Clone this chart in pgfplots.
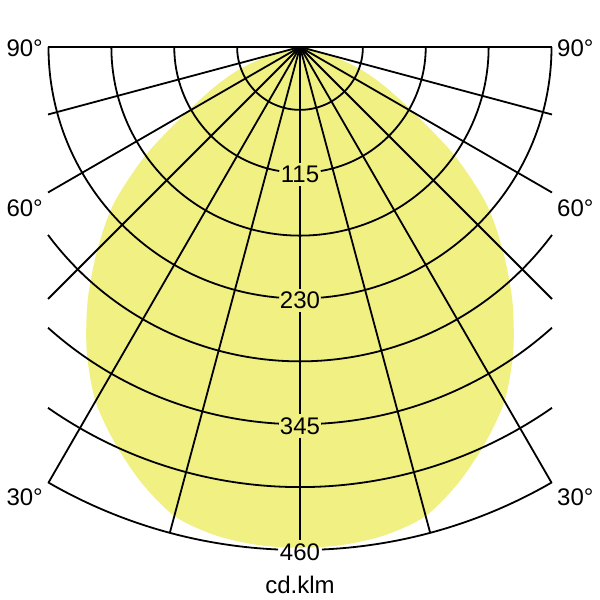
\documentclass[border=0pt]{standalone}
\usepackage{fontspec}
\setmainfont{Liberation Sans}
\usepackage{pgfplots}
\pgfplotsset{compat=1.18}
\usepackage{pgfplotstable}
\definecolor{lum}{RGB}{241,240,131}
% luminous intensity (cd/klm) vs angle from nadir (deg)
\pgfplotstableread{
a I
-90 0
-85 3
-80 10
-75 28
-70 58
-65 86
-60 120
-55 172
-50 222
-45 262
-40 302
-35 340
-30 374
-25 400
-20 424
-15 444
-10 453
-5 457
0 458
5 457
10 453
15 444
20 424
25 400
30 374
35 340
40 302
45 262
50 222
55 172
60 120
65 86
70 58
75 28
80 10
85 3
90 0
}\ldc
\begin{document}
\begin{tikzpicture}
\begin{axis}[width=600pt,height=600pt,scale only axis,
  xmin=0,xmax=600,ymin=-600,ymax=0,hide axis,clip=false]
\path (axis cs:0,0) rectangle (axis cs:600,-600);
\addplot[fill=lum,draw=none,smooth] table[
  x expr={300+1.09348*\thisrow{I}*sin(\thisrow{a})},
  y expr={-47-1.09348*\thisrow{I}*cos(\thisrow{a})}] {\ldc};
\begin{scope}[line width=1.8pt,line cap=butt]
% radial lines
\draw (axis cs:300,-47) -- ++(-75:503pt);
\draw (axis cs:300,-47) -- ++(-105:503pt);
\draw (axis cs:300,-47) -- ++(-60:503pt);
\draw (axis cs:300,-47) -- ++(-120:503pt);
\draw (axis cs:300,-47) -- (axis cs:552,-299);
\draw (axis cs:300,-47) -- (axis cs:48,-299);
\draw (axis cs:300,-47) -- (axis cs:552,-192.5);
\draw (axis cs:300,-47) -- (axis cs:48,-192.5);
\draw (axis cs:300,-47) -- (axis cs:552,-114.5);
\draw (axis cs:300,-47) -- (axis cs:48,-114.5);
\draw (axis cs:48,-47) -- (axis cs:552,-47);
% vertical line, broken at labels
\draw (axis cs:300,-47) -- (axis cs:300,-163);
\draw (axis cs:300,-186) -- (axis cs:300,-289);
\draw (axis cs:300,-312) -- (axis cs:300,-414);
\draw (axis cs:300,-438) -- (axis cs:300,-540);
% circles
\draw (axis cs:300,-47) ++(-180:62.875pt) arc[start angle=-180,end angle=0,radius=62.875pt];
\draw (axis cs:300,-47) ++(-180:125.75pt) arc[start angle=-180,end angle=-99.5,radius=125.75pt];
\draw (axis cs:300,-47) ++(-80.5:125.75pt) arc[start angle=-80.5,end angle=0,radius=125.75pt];
\draw (axis cs:300,-47) ++(-180:188.625pt) arc[start angle=-180,end angle=0,radius=188.625pt];
\draw (axis cs:300,-47) ++(-180:251.5pt) arc[start angle=-180,end angle=-94.75,radius=251.5pt];
\draw (axis cs:300,-47) ++(-85.25:251.5pt) arc[start angle=-85.25,end angle=0,radius=251.5pt];
\draw (axis cs:300,-47) ++(-143.29:314.375pt) arc[start angle=-143.29,end angle=-36.71,radius=314.375pt];
\draw (axis cs:300,-47) ++(-131.91:377.25pt) arc[start angle=-131.91,end angle=-93.2,radius=377.25pt];
\draw (axis cs:300,-47) ++(-86.8:377.25pt) arc[start angle=-86.8,end angle=-48.09,radius=377.25pt];
\draw (axis cs:300,-47) ++(-124.93:440.125pt) arc[start angle=-124.93,end angle=-55.07,radius=440.125pt];
\draw (axis cs:300,-47) ++(-120.07:503pt) arc[start angle=-120.07,end angle=-92.5,radius=503pt];
\draw (axis cs:300,-47) ++(-87.5:503pt) arc[start angle=-87.5,end angle=-59.93,radius=503pt];
\end{scope}
% labels
\begin{scope}[every node/.style={font=\fontsize{24}{28}\selectfont,inner sep=0pt}]
\node at (axis cs:300,-174.5) {115};
\node at (axis cs:300,-300) {230};
\node at (axis cs:300,-426) {345};
\node at (axis cs:300,-552) {460};
\node at (axis cs:300,-585) {cd.klm};
\node[anchor=east] at (axis cs:43,-48) {90°};
\node[anchor=east] at (axis cs:43,-208) {60°};
\node[anchor=east] at (axis cs:43,-497) {30°};
\node[anchor=west] at (axis cs:557,-48) {90°};
\node[anchor=west] at (axis cs:557,-208) {60°};
\node[anchor=west] at (axis cs:557,-497) {30°};
\end{scope}
\end{axis}
\end{tikzpicture}
\end{document}
